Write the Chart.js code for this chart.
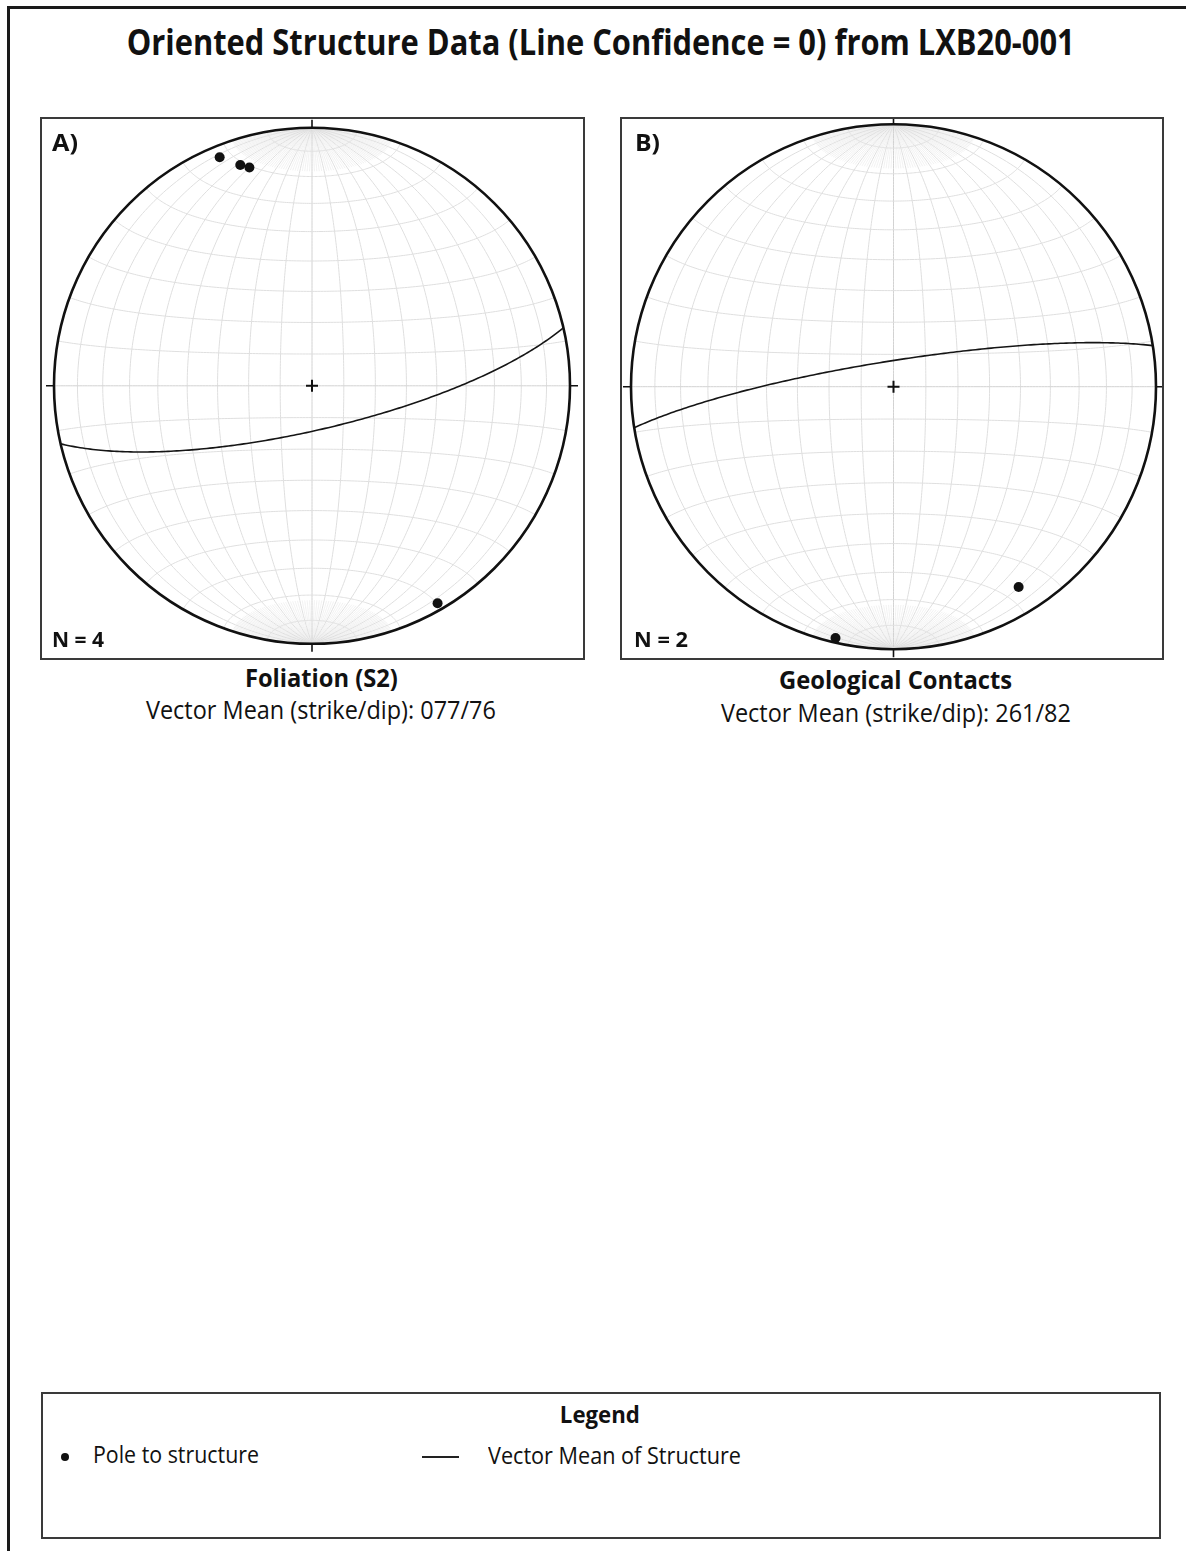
<!DOCTYPE html>
<html>
<head>
<meta charset="utf-8">
<script src="https://cdn.jsdelivr.net/npm/chart.js@4.4.1/dist/chart.umd.min.js"></script>
<style>
  html, body { margin: 0; padding: 0; background: #fff; }
  body { width: 1186px; height: 1551px; position: relative; overflow: hidden; font-family: "Open Sans", "DejaVu Sans", sans-serif; color: #111; }
  .frame { position: absolute; left: 7px; top: 6px; width: 1300px; height: 1700px; border: 3px solid #1a1a1a; box-sizing: border-box; }
  .box { position: absolute; border: 2px solid #3a3a3a; box-sizing: border-box; pointer-events: none; }
  canvas.net { position: absolute; }
  .txt { position: absolute; white-space: nowrap; line-height: 1; }
  .b { font-weight: 700; }
  .legline { position: absolute; height: 2px; background: #222; }
  .legdot { position: absolute; width: 8px; height: 8px; border-radius: 50%; background: #111; }
</style>
</head>
<body>
<div class="frame"></div>

<canvas id="netA" class="net" width="545" height="543"></canvas>
<canvas id="netB" class="net" width="544" height="543"></canvas>
<div id="boxA" class="box"></div>
<div id="boxB" class="box"></div>

<div class="box" style="left:41px; top:1392px; width:1120px; height:147px;"></div>
<div class="legdot" style="left:61px; top:1453px;"></div>
<div class="legline" style="left:422px; top:1456px; width:37px;"></div>

<div id="texts"></div>

<script>
// ---- data -------------------------------------------------------------
const titleText = "Oriented Structure Data (Line Confidence = 0) from LXB20-001";
const panelLetters = ["A)", "B)"];
const structureNames = ["Foliation (S2)", "Geological Contacts"];

// measured planes, right-hand-rule strike / dip (degrees)
const foliationStrikes = [68, 72, 74, 240];
const foliationDips    = [85, 79, 77, 87];
const contactStrikes   = [283, 238];
const contactDips      = [88, 79];

// vector means (strike / dip)
const meanStrikes = [77, 261];
const meanDips    = [76, 82];

const legendLabels = ["Legend", "Pole to structure", "Vector Mean of Structure"];

// ---- geometry helpers (lower-hemisphere equal-area) -------------------
const D2R = Math.PI / 180;
function project(trend, plunge) {
  const r = Math.SQRT2 * Math.sin((90 - plunge) / 2 * D2R);
  return { x: r * Math.sin(trend * D2R), y: r * Math.cos(trend * D2R) };
}
function vecToTP(n, e, d) {
  if (d < 0) { n = -n; e = -e; d = -d; }
  const len = Math.hypot(n, e, d);
  const plunge = Math.asin(Math.min(1, d / len)) / D2R;
  let trend = Math.atan2(e, n) / D2R;
  if (trend < 0) trend += 360;
  return [trend, plunge];
}
function poleOf(strike, dip) {
  return project((strike + 270) % 360, 90 - dip);
}
function greatCircle(strike, dip) {
  const s = strike * D2R, dd = (strike + 90) * D2R, dp = dip * D2R;
  const sv = [Math.cos(s), Math.sin(s), 0];
  const dv = [Math.cos(dd) * Math.cos(dp), Math.sin(dd) * Math.cos(dp), Math.sin(dp)];
  const pts = [];
  for (let a = 0; a <= 180; a += 1) {
    const c = Math.cos(a * D2R), k = Math.sin(a * D2R);
    let n = c * sv[0] + k * dv[0], e = c * sv[1] + k * dv[1], d = c * sv[2] + k * dv[2];
    if (d < 0) d = 0;
    const tp = vecToTP(n, e, d);
    pts.push(project(tp[0], tp[1]));
  }
  return pts;
}
// point on the net: longitude lam (E-W from vertical), latitude phi (towards N)
function netPoint(lam, phi) {
  const n = Math.sin(phi * D2R);
  const e = Math.cos(phi * D2R) * Math.sin(lam * D2R);
  const d = Math.cos(phi * D2R) * Math.cos(lam * D2R);
  const tp = vecToTP(n, e, Math.max(0, d));
  return project(tp[0], tp[1]);
}

// ---- net grid + primitive drawn through the chart scales --------------
const netPlugin = {
  id: 'stereoNet',
  beforeDatasetsDraw(chart) {
    const ctx = chart.ctx, xs = chart.scales.x, ys = chart.scales.y;
    const px = p => [xs.getPixelForValue(p.x), ys.getPixelForValue(p.y)];
    const poly = (pts, color, w) => {
      ctx.beginPath();
      pts.forEach((p, i) => { const q = px(p); i ? ctx.lineTo(q[0], q[1]) : ctx.moveTo(q[0], q[1]); });
      ctx.strokeStyle = color; ctx.lineWidth = w; ctx.stroke();
    };
    ctx.save();
    // fine meridians near the net poles
    for (let lam = -88; lam <= 88; lam += 2) {
      if (lam % 10 === 0) continue;
      const north = [], south = [];
      for (let phi = 72; phi <= 90; phi += 0.5) { north.push(netPoint(lam, phi)); south.push(netPoint(lam, -phi)); }
      poly(north, '#ededed', 0.8); poly(south, '#ededed', 0.8);
    }
    // meridians every 10 degrees
    for (let lam = -80; lam <= 80; lam += 10) {
      const pts = [];
      for (let phi = -90; phi <= 90; phi += 1) pts.push(netPoint(lam, phi));
      poly(pts, lam === 0 ? '#d2d2d2' : '#dfdfdf', 1);
    }
    // small circles every 10 degrees
    for (let phi = -80; phi <= 80; phi += 10) {
      const pts = [];
      for (let lam = -90; lam <= 90; lam += 1) pts.push(netPoint(lam, phi));
      poly(pts, phi === 0 ? '#d2d2d2' : '#dfdfdf', 1);
    }
    // primitive circle
    const c = px({ x: 0, y: 0 });
    const R = xs.getPixelForValue(1) - c[0];
    ctx.beginPath(); ctx.arc(c[0], c[1], R, 0, Math.PI * 2);
    ctx.strokeStyle = '#111'; ctx.lineWidth = 2.6; ctx.stroke();
    // cardinal ticks
    ctx.lineWidth = 1.6; ctx.beginPath();
    ctx.moveTo(c[0], c[1] - R); ctx.lineTo(c[0], c[1] - R - 8);
    ctx.moveTo(c[0], c[1] + R); ctx.lineTo(c[0], c[1] + R + 8);
    ctx.moveTo(c[0] - R, c[1]); ctx.lineTo(c[0] - R - 8, c[1]);
    ctx.moveTo(c[0] + R, c[1]); ctx.lineTo(c[0] + R + 8, c[1]);
    ctx.stroke();
    // centre cross
    ctx.lineWidth = 2; ctx.beginPath();
    ctx.moveTo(c[0] - 6, c[1]); ctx.lineTo(c[0] + 6, c[1]);
    ctx.moveTo(c[0], c[1] - 6); ctx.lineTo(c[0], c[1] + 6);
    ctx.stroke();
    ctx.restore();
  }
};

// panel frames and net placement
const panels = [
  { id: 'netA', box: 'boxA', bx: 40, by: 117, bw: 545, bh: 543, cx: 312, cy: 385.8, R: 258,
    strikes: foliationStrikes, dips: foliationDips },
  { id: 'netB', box: 'boxB', bx: 620, by: 117, bw: 544, bh: 543, cx: 893.5, cy: 386.7, R: 262.5,
    strikes: contactStrikes, dips: contactDips }
];

panels.forEach((p, i) => {
  const cv = document.getElementById(p.id);
  Object.assign(cv.style, { left: p.bx + 'px', top: p.by + 'px', width: p.bw + 'px', height: p.bh + 'px' });
  Object.assign(document.getElementById(p.box).style, { left: p.bx + 'px', top: p.by + 'px', width: p.bw + 'px', height: p.bh + 'px' });
  const poles = p.strikes.map((s, k) => poleOf(s, p.dips[k]));
  new Chart(cv, {
    type: 'scatter',
    data: {
      datasets: [
        { label: 'Vector Mean of Structure', data: greatCircle(meanStrikes[i], meanDips[i]), showLine: true,
          borderColor: '#151515', borderWidth: 1.6, pointRadius: 0, fill: false, tension: 0, order: 2 },
        { label: 'Pole to structure', data: poles, pointRadius: 5, pointHoverRadius: 5,
          backgroundColor: '#111', borderColor: '#111', borderWidth: 0, order: 1 }
      ]
    },
    options: {
      responsive: false, animation: false, devicePixelRatio: 1,
      layout: { padding: 0, autoPadding: false },
      plugins: { legend: { display: false }, tooltip: { enabled: false }, title: { display: false } },
      scales: {
        x: { type: 'linear', display: false, min: (p.bx - p.cx) / p.R, max: (p.bx + p.bw - p.cx) / p.R },
        y: { type: 'linear', display: false, min: (p.cy - (p.by + p.bh)) / p.R, max: (p.cy - p.by) / p.R }
      }
    },
    plugins: [netPlugin]
  });
});

// ---- text --------------------------------------------------------------
const pad3 = v => String(v).padStart(3, '0');
const texts = [
  { t: titleText, b: true, cx: 601, cap: 30, h: 25, w: 948 },
  { t: panelLetters[0], b: true, left: 52, cap: 135, h: 17, w: 26 },
  { t: panelLetters[1], b: true, left: 635, cap: 135, h: 17, w: 25 },
  { t: 'N = ' + foliationStrikes.length, b: true, left: 52, cap: 633, h: 15, w: 52 },
  { t: 'N = ' + contactStrikes.length, b: true, left: 634, cap: 633, h: 15, w: 54 },
  { t: structureNames[0], b: true, cx: 321, cap: 669, h: 18, w: 153 },
  { t: 'Vector Mean (strike/dip): ' + pad3(meanStrikes[0]) + '/' + meanDips[0], b: false, cx: 321, cap: 701, h: 18, w: 350 },
  { t: structureNames[1], b: true, cx: 896, cap: 671, h: 18, w: 233 },
  { t: 'Vector Mean (strike/dip): ' + pad3(meanStrikes[1]) + '/' + meanDips[1], b: false, cx: 896, cap: 704, h: 18, w: 350 },
  { t: legendLabels[0], b: true, cx: 600, cap: 1407, h: 17, w: 80 },
  { t: legendLabels[1], b: false, left: 93, cap: 1447, h: 17, w: 166 },
  { t: legendLabels[2], b: false, left: 488, cap: 1448, h: 17, w: 253 }
];
const holder = document.getElementById('texts');
texts.forEach(o => {
  const el = document.createElement('div');
  el.className = 'txt' + (o.b ? ' b' : '');
  el.textContent = o.t;
  const fs = o.h / 0.714;
  el.style.fontSize = fs.toFixed(2) + 'px';
  el.style.top = (o.cap - 0.174 * fs).toFixed(2) + 'px';
  holder.appendChild(el);
  const natural = el.getBoundingClientRect().width;
  const k = o.w / natural;
  if (o.cx !== undefined) {
    el.style.left = (o.cx - natural / 2) + 'px';
    el.style.transformOrigin = '50% 50%';
  } else {
    el.style.left = o.left + 'px';
    el.style.transformOrigin = '0 50%';
  }
  el.style.transform = 'scaleX(' + k.toFixed(4) + ')';
});
</script>
</body>
</html>
